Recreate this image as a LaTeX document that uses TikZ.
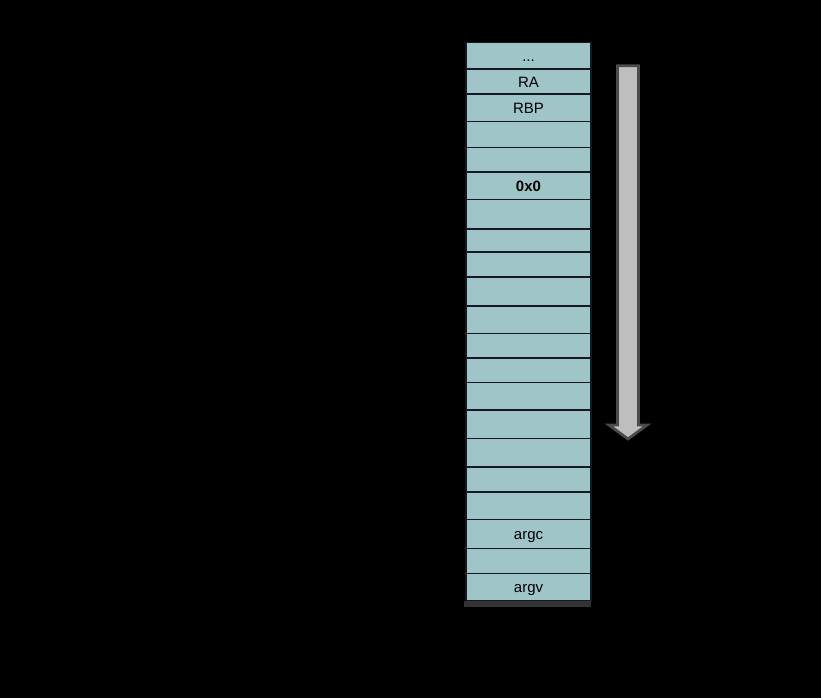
\documentclass[tikz,border=0pt]{standalone}
\usepackage{fontspec}
\setmainfont{Liberation Sans}
\usetikzlibrary{positioning}
\definecolor{slotfill}{RGB}{160,197,200}
\definecolor{slotline}{RGB}{20,24,32}
\definecolor{growfill}{RGB}{190,190,190}
\definecolor{growline}{RGB}{75,75,75}
\tikzset{
  slot/.style={draw=slotline, line width=1.6pt, fill=slotfill, minimum width=125pt, inner sep=0pt,
               outer sep=0pt, anchor=north west, text height=11pt, text depth=0pt,
               font=\fontsize{15}{18}\selectfont},
  base/.style={fill=black!80, draw=none},
  growarrow/.style={draw=growline, line width=2.8pt, fill=growfill, line join=miter}
}
\begin{document}
\begin{tikzpicture}[x=1pt, y=-1pt]
\fill[black] (0,0) rectangle (821,698);
% stack slots, top to bottom
\foreach \n/\ytop/\ybot/\lab in {1/42.7/69.3/{...}, 2/69.3/94/RA, 3/94/121.7/RBP, 4/121.7/147.3/{},
    5/147.3/171.7/{}, 6/171.7/199.3/{\textbf{0x0}}, 7/199.3/228.7/{}, 8/228.7/251.7/{},
    9/251.7/276.7/{}, 10/276.7/306/{}, 11/306/333.3/{}, 12/333.3/357.7/{}, 13/357.7/382.3/{},
    14/382.3/410/{}, 15/410/438.3/{}, 16/438.3/466.7/{}, 17/466.7/491.7/{}, 18/491.7/519.3/{},
    19/519.3/548.3/argc, 20/548.3/573.3/{}, 21/573.3/600.7/argv}{
  \pgfmathsetmacro\h{\ybot-\ytop}
  \node[slot, minimum height=\h pt] (s\n) at (466,\ytop) {\lab};
}
\fill[base] (464,601) rectangle (591,607);
% growth direction
\draw[growarrow] (617.5,65.8) -- (638.5,65.8) -- (638.5,425) -- (647,425) -- (628,439) -- (609,425)
  -- (617.5,425) -- cycle;
\end{tikzpicture}
\end{document}
